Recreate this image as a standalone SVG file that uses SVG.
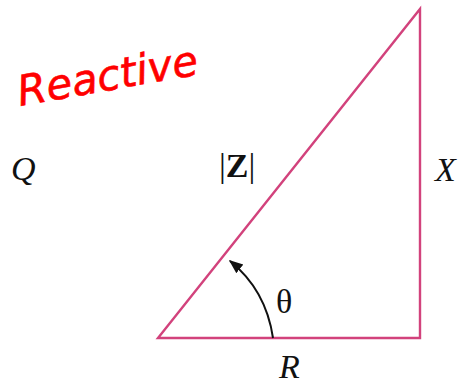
<svg xmlns="http://www.w3.org/2000/svg" width="465" height="387" viewBox="0 0 465 387">
<style>
.edge{fill:none;stroke:#d2427c;stroke-width:2.4;stroke-linejoin:miter}
.lbl{font-family:"Liberation Serif","Times New Roman",serif;font-size:34px;fill:#111}
.it{font-style:italic}
.arc{fill:none;stroke:#111;stroke-width:2}
.hand{font-family:"DejaVu Sans","Liberation Sans",sans-serif;font-style:italic;font-size:42px;fill:#ff0000;stroke:#ff0000;stroke-width:0.6}
</style>
<defs>
<marker id="ah2" viewBox="0 0 10 10" refX="9" refY="5" markerWidth="14" markerHeight="14" markerUnits="userSpaceOnUse" orient="auto">
<path d="M0,1 L10,5 L0,9 z" fill="#111"/>
</marker>
</defs>
<rect width="465" height="387" fill="#ffffff"/>
<g id="triangle">
<path class="edge" d="M158,338 L420,338 L420,9 Z"/>
</g>
<g id="connectors">
<path class="arc" d="M273,338 Q266,290 230,261" marker-end="url(#ah2)"/>
</g>
<g id="label-Q"><text class="lbl it" x="11" y="180">Q</text></g>
<g id="label-Z"><text class="lbl" x="219" y="177">|<tspan font-weight="bold">Z</tspan>|</text></g>
<g id="label-X"><text class="lbl it" x="435" y="181">X</text></g>
<g id="label-theta"><text class="lbl" x="276" y="313">θ</text></g>
<g id="label-R"><text class="lbl it" x="279" y="378">R</text></g>
<g id="label-reactive"><text class="hand" x="20" y="106" transform="rotate(-10 20 106)">Reactive</text></g>
</svg>
